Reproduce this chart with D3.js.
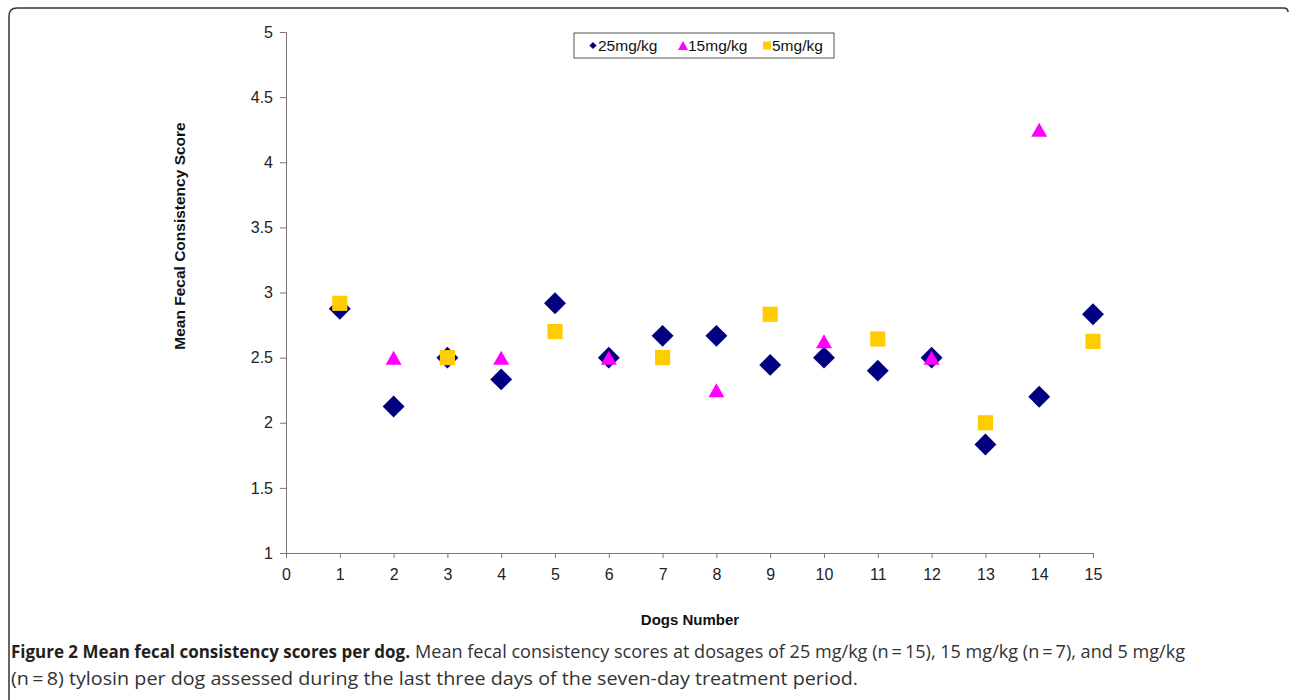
<!DOCTYPE html>
<html>
<head>
<meta charset="utf-8">
<script src="https://cdn.jsdelivr.net/npm/d3@7"></script>
<style>
  body { margin: 0; background: #fff; }
  svg { display: block; }
</style>
</head>
<body>
<svg id="chart" width="1290" height="700"></svg>
<script>
// data
let dogs25 = [1,2,3,4,5,6,7,8,9,10,11,12,13,14,15];
let score25 = [2.875,2.125,2.5,2.333,2.917,2.5,2.667,2.667,2.444,2.5,2.4,2.5,1.833,2.2,2.833];
let dogs15 = [2,4,6,8,10,12,14];
let score15 = [2.5,2.5,2.5,2.25,2.625,2.5,4.25];
let dogs5 = [1,3,5,7,9,11,13,15];
let score5 = [2.917,2.5,2.7,2.5,2.833,2.643,2.0,2.625];
let xTicks = d3.range(0, 16);
let yTicks = [1,1.5,2,2.5,3,3.5,4,4.5,5];
let seriesNames = ["25mg/kg","15mg/kg","5mg/kg"];

let svg = d3.select("#chart");

// outer frame
svg.append("path")
    .attr("d", "M9,712 L9,16 Q9,8 17,8 L1284,8 Q1288,8 1288,12")
    .attr("fill", "none")
    .attr("stroke", "#333")
    .attr("stroke-width", 1.5);

let x = d3.scaleLinear().domain([0, 15]).range([286, 1093]);
let y = d3.scaleLinear().domain([1, 5]).range([553, 32]);

let axisColor = "#777";
let font = "'Liberation Sans', Arial, sans-serif";

// y axis
let yAxis = svg.append("g")
    .attr("transform", "translate(286,0)")
    .call(d3.axisLeft(y).tickValues(yTicks).tickSize(6).tickSizeOuter(0).tickFormat(d3.format("")));
yAxis.select(".domain").attr("stroke", axisColor);
yAxis.selectAll(".tick line").attr("stroke", axisColor);
yAxis.selectAll(".tick text")
    .attr("x", -13)
    .attr("font-family", font)
    .attr("font-size", 16)
    .attr("fill", "#222");

// x axis
let xAxis = svg.append("g")
    .attr("transform", "translate(0,553)")
    .call(d3.axisBottom(x).tickValues(xTicks).tickSize(5).tickSizeOuter(0));
xAxis.select(".domain").attr("stroke", axisColor);
xAxis.selectAll(".tick line").attr("stroke", axisColor);
xAxis.selectAll(".tick text")
    .attr("y", 16)
    .attr("font-family", font)
    .attr("font-size", 16)
    .attr("fill", "#222");

// axis titles
svg.append("text")
    .text("Dogs Number")
    .attr("x", 690).attr("y", 625)
    .attr("text-anchor", "middle")
    .attr("font-family", font)
    .attr("font-weight", "bold")
    .attr("font-size", 15)
    .attr("fill", "#111");

svg.append("text")
    .text("Mean Fecal Consistency Score")
    .attr("transform", "translate(185,236) rotate(-90)")
    .attr("text-anchor", "middle")
    .attr("font-family", font)
    .attr("font-weight", "bold")
    .attr("font-size", 15.5)
    .attr("fill", "#111");

// markers
let colors = ["#000080", "#ff00ff", "#ffcc00"];
let diamond = d3.symbol().type(d3.symbolSquare).size(240);
let sq = d3.symbol().type(d3.symbolSquare).size(230);
// triangle centred on its box, like the spreadsheet marker
function triPath(w, h) {
    return `M0,${-h / 2}L${w / 2},${h / 2}L${-w / 2},${h / 2}Z`;
}

svg.append("g").selectAll("path")
    .data(dogs25.map((d, i) => [d, score25[i]]))
    .enter().append("path")
    .attr("d", diamond)
    .attr("transform", d => `translate(${x(d[0])},${y(d[1])}) rotate(45)`)
    .attr("fill", colors[0]);

svg.append("g").selectAll("path")
    .data(dogs15.map((d, i) => [d, score15[i]]))
    .enter().append("path")
    .attr("d", triPath(16, 14))
    .attr("transform", d => `translate(${x(d[0])},${y(d[1])})`)
    .attr("fill", colors[1]);

svg.append("g").selectAll("path")
    .data(dogs5.map((d, i) => [d, score5[i]]))
    .enter().append("path")
    .attr("d", sq)
    .attr("transform", d => `translate(${x(d[0])},${y(d[1])})`)
    .attr("fill", colors[2]);

// legend
let legend = svg.append("g");
legend.append("rect")
    .attr("x", 574).attr("y", 33).attr("width", 260).attr("height", 25)
    .attr("fill", "#fff").attr("stroke", "#555").attr("stroke-width", 1);
let legSym = [593, 683, 767];
let legTxt = [598, 688, 772];
let legPaths = [
    d3.symbol().type(d3.symbolSquare).size(26)(),
    triPath(10, 9),
    d3.symbol().type(d3.symbolSquare).size(64)()
];
seriesNames.forEach((name, i) => {
    legend.append("path")
        .attr("d", legPaths[i])
        .attr("transform", `translate(${legSym[i]},45.5)` + (i == 0 ? " rotate(45)" : ""))
        .attr("fill", colors[i]);
    legend.append("text")
        .text(name)
        .attr("x", legTxt[i]).attr("y", 51)
        .attr("font-family", font)
        .attr("font-size", 15.5)
        .attr("fill", "#111");
});

// caption
let capFont = "'Open Sans', 'Noto Sans', sans-serif";
svg.append("text")
    .attr("x", 11).attr("y", 658)
    .attr("font-family", capFont)
    .attr("font-size", 18.5)
    .attr("font-weight", "bold")
    .attr("fill", "#231f20")
    .attr("textLength", 399)
    .attr("lengthAdjust", "spacingAndGlyphs")
    .text("Figure 2 Mean fecal consistency scores per dog.");
svg.append("text")
    .attr("x", 415).attr("y", 658)
    .attr("font-family", capFont)
    .attr("font-size", 18.5)
    .attr("fill", "#333")
    .attr("textLength", 770)
    .attr("lengthAdjust", "spacingAndGlyphs")
    .text("Mean fecal consistency scores at dosages of 25 mg/kg (n\u2009=\u200915), 15 mg/kg (n\u2009=\u20097), and 5 mg/kg");
svg.append("text")
    .attr("x", 11).attr("y", 685)
    .attr("font-family", capFont)
    .attr("font-size", 18.5)
    .attr("fill", "#333")
    .attr("textLength", 847)
    .attr("lengthAdjust", "spacingAndGlyphs")
    .text("(n\u2009=\u20098) tylosin per dog assessed during the last three days of the seven-day treatment period.");
</script>
</body>
</html>
